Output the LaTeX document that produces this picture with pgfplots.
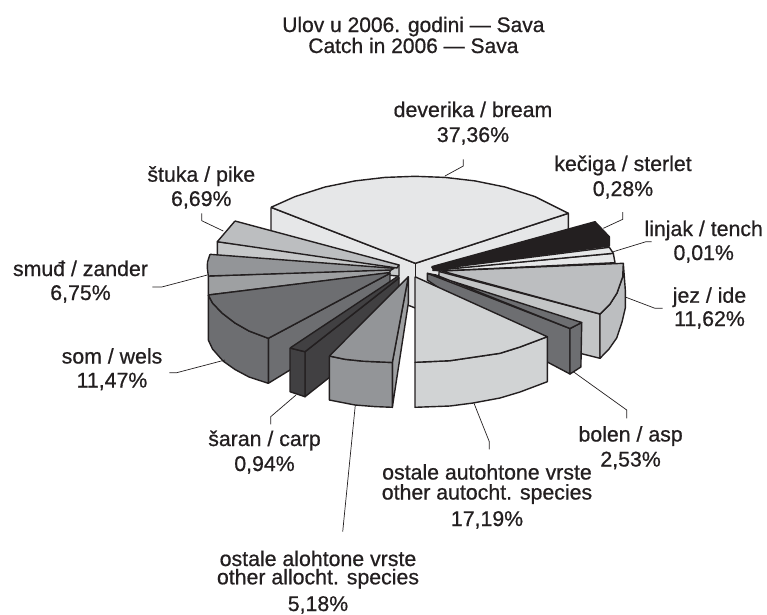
\documentclass[border=0pt]{standalone}
\usepackage{pgfplots}
\pgfplotsset{compat=1.18}
\usepackage{fontspec}
\setmainfont{Liberation Sans}
\newfontfamily\medfont[FakeBold=0.7]{Liberation Sans}
\definecolor{ink}{HTML}{231F20}
\definecolor{cBream}{HTML}{E6E7E8}
\definecolor{cIde}{HTML}{BCBEC0}
\definecolor{cAsp}{HTML}{6D6E71}
\definecolor{cAuto}{HTML}{D1D3D4}
\definecolor{cAlien}{HTML}{939598}
\definecolor{cCarp}{HTML}{414042}
\definecolor{cZander}{HTML}{939598}
\tikzset{
  slice/.style={draw=ink, line width=1.4pt, line join=round, mark=none},
  lead/.style={draw=ink, line width=0.7pt, mark=none},
  lbl/.style={anchor=base, font=\medfont\fontsize{21.3}{24}\selectfont, text=ink, inner sep=0pt},
  ttl/.style={anchor=base, font=\medfont\fontsize{21}{22}\selectfont, text=ink, inner sep=0pt},
}
\begin{document}
\begin{tikzpicture}
\useasboundingbox (0,0) rectangle (767pt,614pt);
\begin{axis}[
  at={(0,0)}, anchor=south west,
  scale only axis, width=767pt, height=614pt,
  xmin=0, xmax=767, ymin=0, ymax=614, y dir=reverse,
  hide axis, clip=false,
]
% bream
\addplot[slice, fill=cBream] coordinates {(271,207.3)(271,252)(415.3,308)(568.3,258)(568.3,213.3)(415.3,263.3)(271,207.3)};
\addplot[slice, fill=cBream] coordinates {(415.3,263.3)(415.3,308)};
\addplot[slice, fill=cBream] coordinates {(271,207.3)(295,196.6)(325,187)(355,180.9)(385,177.4)(415,176.3)(445,177.4)(475,180.9)(505,187)(535,196.6)(568.3,213.3)(415.3,263.3)(271,207.3)};
% pike
\addplot[slice, fill=cIde!85!white] coordinates {(217.3,241.7)(217.3,256)(397,276)(399,276)(399,265)(217.3,241.7)};
\addplot[slice, fill=cIde] coordinates {(235,221)(217.3,241.7)(397,268)(399,265)(235,221)};
% zander
\addplot[slice, fill=cZander!90!white] coordinates {(208.3,276)(208.3,295)(389.3,273)(391,269.5)(208.3,276)};
\addplot[slice, fill=cZander] coordinates {(210,254.3)(207.5,262)(207.3,268)(208.3,276)(391,270)(394,268.3)(210,254.3)};
% wels
\addplot[slice, fill=cAsp] coordinates {(268.3,338.3)(268.3,383.3)(290,370)(390,282)(390,273.3)(268.3,338.3)};
\addplot[slice, fill=cAsp] coordinates {(208.3,295)(208.3,340)(212.5,349)(223,361)(235,369.5)(249,377)(268.3,383.3)(268.3,338.3)(249,331)(235,323)(222,313)(212.5,303)(208.3,295)};
\addplot[slice, fill=cAsp] coordinates {(208.3,295)(212.5,303)(222,313)(235,323)(249,331)(268.3,338.3)(390,273.3)(388.3,272.7)(208.3,295)};
% carp
\addplot[slice, fill=cCarp] coordinates {(305,351.7)(305,396.7)(335,373)(399,290)(399,278)(305,351.7)};
\addplot[slice, fill=cCarp] coordinates {(290,348)(290,391.7)(305,396.7)(305,351.7)(290,348)};
\addplot[slice, fill=cCarp] coordinates {(290,348)(305,351.7)(399,278)(398.3,276)(290,348)};
% alien
\addplot[slice, fill=cAlien!90!white] coordinates {(392.3,362.5)(392.3,407.3)(408.3,303.3)(408.3,276.7)(392.3,362.5)};
\addplot[slice, fill=cAlien] coordinates {(329.3,356)(329.3,400)(355,405)(375,406.6)(392.3,407.3)(392.3,362.5)(363.3,361.2)(345,359.3)(329.3,356)};
\addplot[slice, fill=cAlien] coordinates {(329.3,356)(345,359.3)(363.3,361.2)(392.3,362.5)(408.3,276.7)(329.3,356)};
% sterlet
\addplot[slice, draw=ink, fill=ink] coordinates {(431.7,266.7)(595,221.7)(609.3,236.7)(609.3,246)(433,269)(431.7,266.7)};
% tench
\addplot[slice, fill=cBream] coordinates {(613.3,253.3)(615,262.7)(440,271)(433,270)(613.3,253.3)};
\addplot[slice, fill=cBream] coordinates {(433,269.5)(609.3,247.3)(613.3,253.3)(433,270.5)(433,269.5)};
% ide
\addplot[slice, fill=cIde!90!white] coordinates {(439,271.5)(600,314)(600,358.3)(438,318)(439,271.5)};
\addplot[slice, fill=cIde] coordinates {(623.3,263.3)(625.3,290)(625.3,308)(622,322)(616.7,338)(609,349)(600,358.3)(600,314)(610,304)(617,293)(622.7,276.7)(623.3,263.3)};
\addplot[slice, fill=cIde] coordinates {(441.7,271)(623.3,263.3)(622.7,276.7)(617,293)(610,304)(600,314)(441.7,271)};
% asp
\addplot[slice, fill=cAsp] coordinates {(570,328.5)(570,374)(547.3,362)(427.3,280)(427.3,273.3)(570,328.5)};
\addplot[slice, fill=cAsp] coordinates {(570,328.5)(581.7,322.5)(580.9,367)(570,374)(570,328.5)};
\addplot[slice, fill=cAsp] coordinates {(427.3,273.3)(581.7,322.5)(570,328.5)(436,275)(427.3,273.3)};
% other autochthonous
\addplot[slice, fill=cAuto] coordinates {(415,362.3)(415,407.3)(450,406)(473,403)(500,398)(520,392)(547.3,381.7)(547.3,336.7)(520,347)(500,353.3)(450,360.7)(415,362.3)};
\addplot[slice, fill=cAuto] coordinates {(415,276.7)(547.3,336.7)(520,347)(500,353.3)(450,360.7)(415,362.3)(415,276.7)};
% leaders
\addplot[lead] coordinates {(445,176)(463.3,166)(463.3,159.3)};
\addplot[lead] coordinates {(603.3,228.3)(622.7,219.3)(622.7,212)};
\addplot[lead] coordinates {(613.3,251.7)(646,241.7)(651.7,241.7)};
\addplot[lead] coordinates {(626,297.3)(655,308.3)(662.7,308.3)};
\addplot[lead] coordinates {(573.3,371.7)(626.7,410)(626.7,418.3)};
\addplot[lead] coordinates {(474,403.3)(489.3,441.7)(489.3,449.3)};
\addplot[lead] coordinates {(355.3,405)(342.7,531.7)};
\addplot[lead] coordinates {(296,395)(270.7,416.7)(270.7,424.3)};
\addplot[lead] coordinates {(225,360)(176.7,372.7)(169.3,372.7)};
\addplot[lead] coordinates {(207.3,275)(161.7,287)(152.3,287)};
\addplot[lead] coordinates {(201.7,213.3)(201.7,220.7)(223.3,231)};
% text
\node[ttl] at (axis cs:413.4,32) {Ulov u 2006. godini — Sava};
\node[ttl] at (axis cs:413.4,53) {Catch in 2006 — Sava};
\node[lbl] at (axis cs:473,117) {deverika / bream};
\node[lbl] at (axis cs:473,142) {37,36\%};
\node[lbl] at (axis cs:623,171) {kečiga / sterlet};
\node[lbl] at (axis cs:623,196) {0,28\%};
\node[lbl] at (axis cs:703.7,236) {linjak / tench};
\node[lbl] at (axis cs:703.7,260) {0,01\%};
\node[lbl] at (axis cs:709.5,302.7) {jez / ide};
\node[lbl] at (axis cs:709.5,326) {11,62\%};
\node[lbl] at (axis cs:630.6,441.5) {bolen / asp};
\node[lbl] at (axis cs:630.6,466.5) {2,53\%};
\node[lbl] at (axis cs:487,479.5) {ostale autohtone vrste};
\node[lbl] at (axis cs:487,499.5) {other autocht. species};
\node[lbl] at (axis cs:487,526) {17,19\%};
\node[lbl] at (axis cs:264.5,446) {šaran / carp};
\node[lbl] at (axis cs:264.5,471) {0,94\%};
\node[lbl] at (axis cs:318,566) {ostale alohtone vrste};
\node[lbl] at (axis cs:318,584.3) {other allocht. species};
\node[lbl] at (axis cs:318,611) {5,18\%};
\node[lbl] at (axis cs:112,363.5) {som / wels};
\node[lbl] at (axis cs:112,387.5) {11,47\%};
\node[lbl] at (axis cs:80.5,276) {smuđ / zander};
\node[lbl] at (axis cs:80.5,300) {6,75\%};
\node[lbl] at (axis cs:201.3,181.7) {štuka / pike};
\node[lbl] at (axis cs:201.3,206) {6,69\%};
\end{axis}
\end{tikzpicture}
\end{document}
